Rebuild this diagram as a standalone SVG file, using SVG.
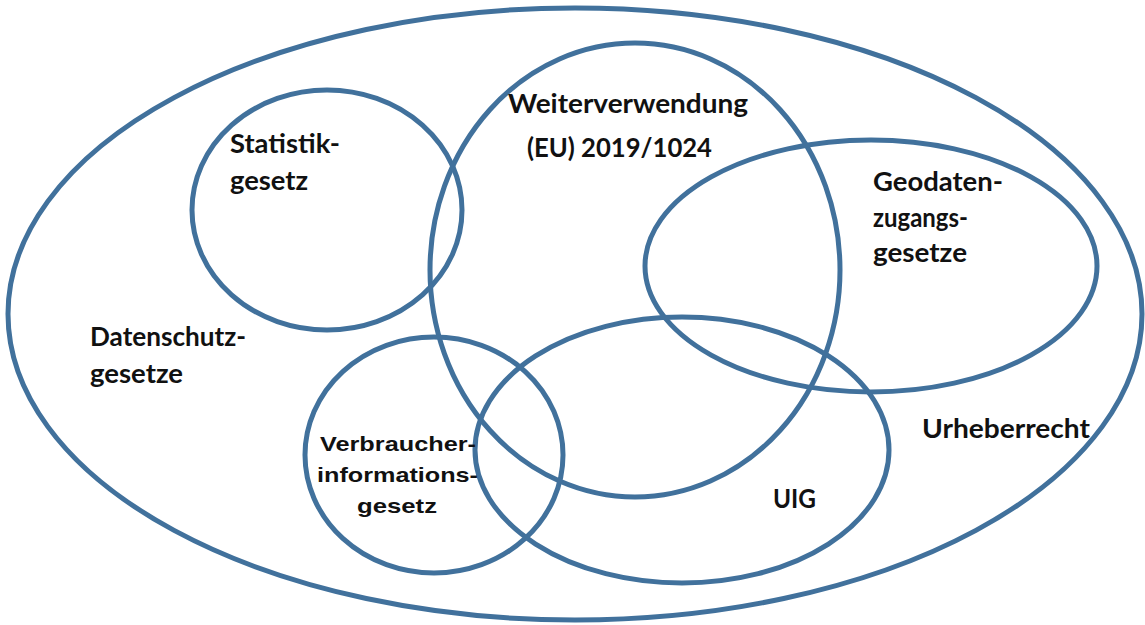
<svg xmlns="http://www.w3.org/2000/svg" width="1145" height="625" viewBox="0 0 1145 625">
<style>
.s{fill:none;stroke:#41719C;stroke-width:5}
.t{font-family:Lato,"Open Sans","Liberation Sans",sans-serif;font-weight:bold;font-size:26px;fill:#111}
.a{font-family:"Liberation Sans",Arial,sans-serif;font-weight:bold;font-size:21px;fill:#111}
</style>
<rect width="1145" height="625" fill="#fff"/>
<g id="urheberrecht">
<ellipse class="s" cx="575" cy="314" rx="567" ry="306"/>
<text class="t" x="922" y="438" textLength="168" lengthAdjust="spacingAndGlyphs">Urheberrecht</text>
</g>
<g id="datenschutz">
<text class="t" x="90" y="346" textLength="156" lengthAdjust="spacingAndGlyphs">Datenschutz-</text>
<text class="t" x="90" y="383" textLength="93" lengthAdjust="spacingAndGlyphs">gesetze</text>
</g>
<g id="statistik">
<ellipse class="s" cx="327" cy="210" rx="135" ry="120"/>
<text class="t" x="230" y="153" textLength="110" lengthAdjust="spacingAndGlyphs">Statistik-</text>
<text class="t" x="230" y="190" textLength="78" lengthAdjust="spacingAndGlyphs">gesetz</text>
</g>
<g id="weiterverwendung">
<ellipse class="s" cx="635" cy="270" rx="205" ry="227"/>
<text class="t" x="508" y="113" textLength="240" lengthAdjust="spacingAndGlyphs">Weiterverwendung</text>
<text class="t" x="527" y="157" textLength="185" lengthAdjust="spacingAndGlyphs">(EU) 2019/1024</text>
</g>
<g id="geodaten">
<ellipse class="s" cx="871" cy="266" rx="226" ry="126"/>
<text class="t" x="873" y="191" textLength="130" lengthAdjust="spacingAndGlyphs">Geodaten-</text>
<text class="t" x="873" y="227" textLength="95" lengthAdjust="spacingAndGlyphs">zugangs-</text>
<text class="t" x="873" y="262" textLength="94" lengthAdjust="spacingAndGlyphs">gesetze</text>
</g>
<g id="uig">
<ellipse class="s" cx="682" cy="450" rx="207" ry="133"/>
<text class="t" x="773" y="508" textLength="43" lengthAdjust="spacingAndGlyphs">UIG</text>
</g>
<g id="verbraucher">
<ellipse class="s" cx="434" cy="455" rx="129" ry="118"/>
<text class="a" x="320" y="451" textLength="156" lengthAdjust="spacingAndGlyphs">Verbraucher-</text>
<text class="a" x="317" y="482" textLength="161" lengthAdjust="spacingAndGlyphs">informations-</text>
<text class="a" x="357" y="513" textLength="80" lengthAdjust="spacingAndGlyphs">gesetz</text>
</g>
<g id="connectors"/>
</svg>
